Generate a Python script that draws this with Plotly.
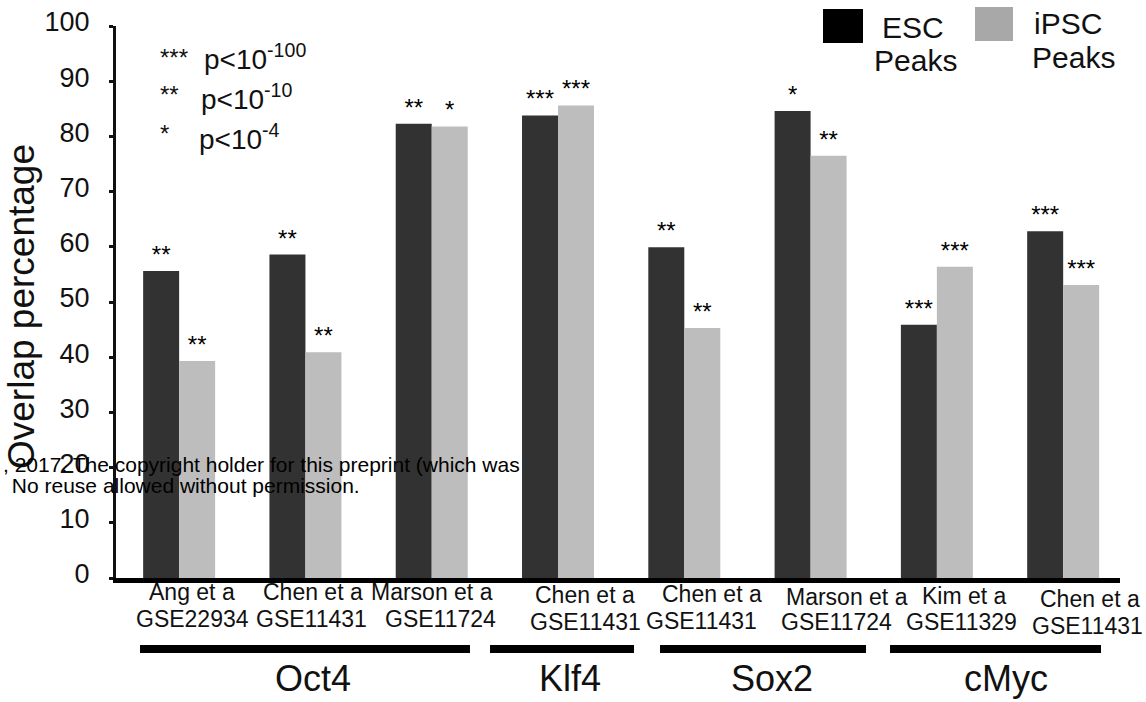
import plotly.graph_objects as go

# ---------------- data ----------------
study_labels = ["Ang et a", "Chen et a", "Marson et a", "Chen et a",
                "Chen et a", "Marson et a", "Kim et a", "Chen et a"]
dataset_labels = ["GSE22934", "GSE11431", "GSE11724", "GSE11431",
                  "GSE11431", "GSE11724", "GSE11329", "GSE11431"]
esc_values = [55.6, 58.6, 82.3, 83.8, 59.9, 84.6, 45.9, 62.8]
ipsc_values = [39.3, 40.9, 81.8, 85.6, 45.3, 76.5, 56.4, 53.1]
esc_sig = ["**", "**", "**", "***", "**", "*", "***", "***"]
ipsc_sig = ["**", "**", "*", "***", "**", "**", "***", "***"]
factor_groups = ["Oct4", "Klf4", "Sox2", "cMyc"]
y_ticks = [0, 10, 20, 30, 40, 50, 60, 70, 80, 90, 100]
pvalue_stars = ["***", "**", "*"]
pvalue_exponents = ["-100", "-10", "-4"]
series_names = ["ESC", "iPSC"]
y_title = "Overlap percentage"
watermark_lines = [", 2017. The copyright holder for this preprint (which was",
                   " No reuse allowed without permission."]

# ---------------- styling / layout helpers ----------------
W, H = 1146, 702
ML, MR, MT, MB = 116, 26, 26, 124
PW, PH = W - ML - MR, H - MT - MB
FONT = "Liberation Sans, Arial, Helvetica, sans-serif"
ESC_COLOR = "#323232"
IPSC_COLOR = "#bdbdbd"


def px_x(p):
    return (p - ML) / PW


def px_y(p):
    return (H - MB - p) / PH


x_idx = list(range(len(study_labels)))

fig = go.Figure()
fig.add_trace(go.Bar(
    x=x_idx, y=esc_values, name=series_names[0], marker_color=ESC_COLOR,
    marker_line_width=0, text=esc_sig, textposition="outside",
    textfont=dict(size=24, color="black", family=FONT), cliponaxis=False,
    textangle=0, showlegend=False))
fig.add_trace(go.Bar(
    x=x_idx, y=ipsc_values, name=series_names[1], marker_color=IPSC_COLOR,
    marker_line_width=0, text=ipsc_sig, textposition="outside",
    textfont=dict(size=24, color="black", family=FONT), cliponaxis=False,
    textangle=0, showlegend=False))

annotations = []
shapes = []

# category labels (two lines), with per-label offsets
line1_shift = [13, 8, 0, 27, 28, 36, 28, 27]
line2_shift = [13, 6, 9, 27, 17, 26, 25, 24]
line1_y = [592, 592, 592, 595, 594, 597, 596, 599]
line2_y = [619, 619, 619, 622, 621, 622, 622, 626]
for i in x_idx:
    annotations.append(dict(x=i, xref="x", xshift=line1_shift[i], y=px_y(line1_y[i]), yref="paper",
                            text=study_labels[i], showarrow=False, xanchor="center", yanchor="middle",
                            font=dict(size=23, color="#111", family=FONT)))
    annotations.append(dict(x=i, xref="x", xshift=line2_shift[i], y=px_y(line2_y[i]), yref="paper",
                            text=dataset_labels[i], showarrow=False, xanchor="center", yanchor="middle",
                            font=dict(size=23, color="#111", family=FONT)))

# group brackets and labels
group_spans = [(140, 470), (490, 634), (660, 866), (890, 1101)]
group_label_x = [313, 570, 772, 1006]
for g, (a, b) in enumerate(group_spans):
    shapes.append(dict(type="rect", xref="paper", yref="paper", x0=px_x(a), x1=px_x(b),
                       y0=px_y(653), y1=px_y(645), fillcolor="black", line_width=0))
    annotations.append(dict(x=px_x(group_label_x[g]), y=px_y(678), xref="paper", yref="paper",
                            text=factor_groups[g], showarrow=False, xanchor="center", yanchor="middle",
                            font=dict(size=36, color="#111", family=FONT)))

# legend (manual)
shapes.append(dict(type="rect", xref="paper", yref="paper", x0=px_x(823), x1=px_x(863),
                   y0=px_y(43), y1=px_y(9), fillcolor="black", line_width=0))
shapes.append(dict(type="rect", xref="paper", yref="paper", x0=px_x(975), x1=px_x(1013),
                   y0=px_y(41), y1=px_y(7), fillcolor="#a8a8a8", line_width=0))
legend_text = [(series_names[0], 913, 27), ("Peaks", 915, 60), (series_names[1], 1068, 24), ("Peaks", 1073, 57)]
for t, x, y in legend_text:
    annotations.append(dict(x=px_x(x), y=px_y(y), xref="paper", yref="paper", text=t,
                            showarrow=False, xanchor="center", yanchor="middle",
                            font=dict(size=30, color="#111", family=FONT)))

# p-value key
star_y = [52, 89, 128]
p_x = [202, 199, 197]
p_y = [57, 97, 137]
for k in range(3):
    annotations.append(dict(x=px_x(158), y=px_y(star_y[k] + 5), xref="paper", yref="paper",
                            text=pvalue_stars[k], showarrow=False, xanchor="left", yanchor="middle",
                            font=dict(size=24, color="#111", family=FONT)))
    annotations.append(dict(x=px_x(p_x[k]), y=px_y(p_y[k]), xref="paper", yref="paper",
                            text="p<10<sup>" + pvalue_exponents[k] + "</sup>", showarrow=False,
                            xanchor="left", yanchor="middle",
                            font=dict(size=28, color="#111", family=FONT)))

# y axis title
annotations.append(dict(x=px_x(22), y=px_y(307), xref="paper", yref="paper", text=y_title,
                        textangle=-90, showarrow=False, xanchor="center", yanchor="middle",
                        font=dict(size=37, color="#111", family=FONT)))

# watermark text
annotations.append(dict(x=px_x(522), y=px_y(464), xref="paper", yref="paper", text=watermark_lines[0],
                        showarrow=False, xanchor="right", yanchor="middle",
                        font=dict(size=21, color="black", family=FONT)))
annotations.append(dict(x=px_x(4), y=px_y(485), xref="paper", yref="paper", text=watermark_lines[1],
                        showarrow=False, xanchor="left", yanchor="middle",
                        font=dict(size=21, color="black", family=FONT)))

fig.update_layout(
    width=W, height=H, autosize=False,
    margin=dict(l=ML, r=MR, t=MT, b=MB, pad=0, autoexpand=False),
    paper_bgcolor="white", plot_bgcolor="white",
    barmode="group", bargap=0.43, bargroupgap=0,
    font=dict(family=FONT, color="#111"),
    showlegend=False,
    annotations=annotations, shapes=shapes,
)
fig.update_xaxes(range=[-0.5, 7.45], showline=True, linewidth=5, linecolor="black",
                 showticklabels=False, ticks="", showgrid=False, zeroline=False, automargin=False)
fig.update_yaxes(range=[0, 100], tickvals=y_ticks, ticks="outside", ticklen=4, tickwidth=3,
                 tickcolor="#111", showline=True, linewidth=3, linecolor="#111",
                 showgrid=False, zeroline=False, ticklabelstandoff=14, ticklabelshift=-4,
                 automargin=False, tickfont=dict(size=27, color="#111", family=FONT))

fig.write_html("out.html")
